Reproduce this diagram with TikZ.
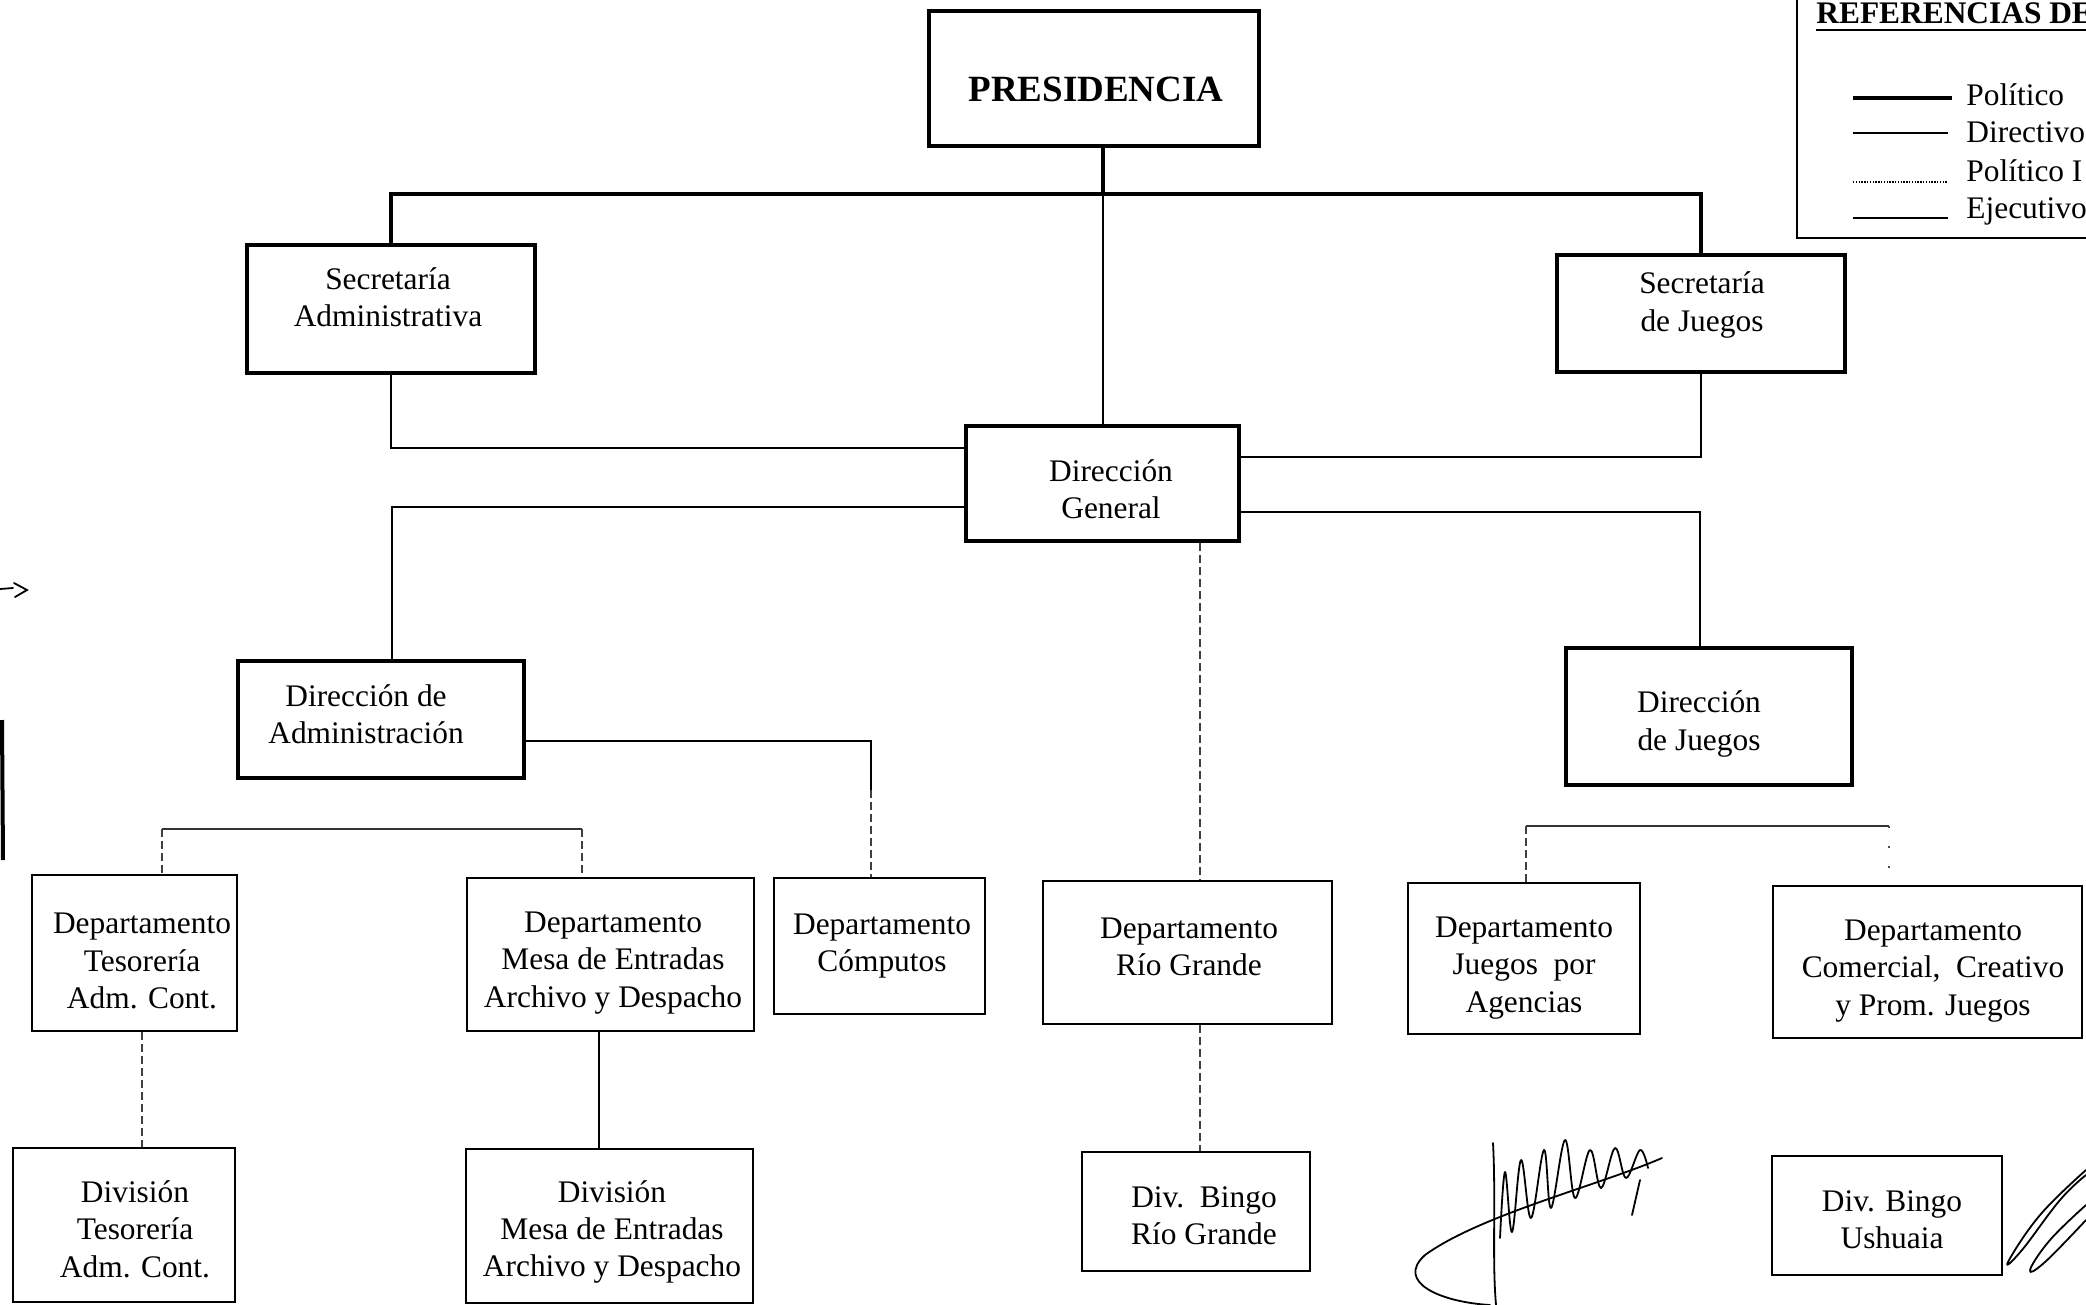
\documentclass[tikz,border=0pt]{standalone}
\usepackage{fontspec}
\setmainfont{Liberation Serif}
\usetikzlibrary{fit}
\begin{document}
\begin{tikzpicture}[x=0.5pt,y=-0.5pt,
  txt/.style={align=center, font=\fontsize{15.7}{18.7}\selectfont, inner sep=0pt},
  thickbox/.style={draw, line width=2.4pt, inner sep=0pt},
  medbox/.style={draw, line width=1.6pt, inner sep=0pt},
  thinbox/.style={draw, line width=1.1pt, inner sep=0pt},
  politico/.style={line width=2.4pt},
  directivo/.style={line width=1.2pt},
  ejecutivo/.style={line width=0.7pt},
  faint/.style={line width=0.6pt, black!75, dash pattern=on 4pt off 2pt},
  sparse/.style={line width=0.6pt, black!70, dash pattern=on 1pt off 9pt},
  sig/.style={line width=0.9pt, line cap=round, line join=round}]
\clip (0,0) rectangle (2086,1305);
\fill[white] (0,0) rectangle (2086,1305);

% ---------- boxes ----------
\node[thickbox, fit={(929,11) (1259,146)}] (pres) {};
\node[txt, font=\bfseries\fontsize{18.5}{22}\selectfont] (presT) at (1096,89) {PRESIDENCIA};
\node[thickbox, fit={(247,245) (535,373)}] (sa) {};
\node[txt] (saT) at (388,297) {Secretaría\\Administrativa};
\node[thickbox, fit={(1557,255) (1845,372)}] (sj) {};
\node[txt] (sjT) at (1702,305) {Secretaría\\de Juegos};
\node[medbox, fit={(966,426) (1239,541)}] (dg) {};
\node[txt] (dgT) at (1111,489) {Dirección\\General};
\node[medbox, fit={(238,661) (524,778)}] (da) {};
\node[txt] (daT) at (366,714) {Dirección de\\Administración};
\node[medbox, fit={(1566,648) (1852,785)}] (dj) {};
\node[txt] (djT) at (1699,724) {Dirección\\de Juegos};

\node[thinbox, fit={(32,875) (237,1031)}] (dt) {};
\node[txt] (dtT) at (142,961) {Departamento\\Tesorería\\Adm. Cont.};
\node[thinbox, fit={(467,878) (754,1031)}] (dm) {};
\node[txt] (dmT) at (613,963) {Departamento\\Mesa de Entradas\\Archivo y Despacho};
\node[thinbox, fit={(774,878) (985,1014)}] (dc) {};
\node[txt] (dcT) at (882,946) {Departamento\\Cómputos};
\node[thinbox, fit={(1043,881) (1332,1024)}] (drg) {};
\node[txt] (drgT) at (1189,947) {Departamento\\Río Grande};
\node[thinbox, fit={(1408,883) (1640,1034)}] (dja) {};
\node[txt] (djaT) at (1524,968) {Departamento\\Juegos\ \ por\\Agencias};
\node[thinbox, fit={(1773,886) (2082,1038)}] (dcc) {};
\node[txt] (dccT) at (1933,971) {Departamento\\Comercial,\ \ Creativo\\y Prom. Juegos};

\node[thinbox, fit={(13,1148) (235,1302)}] (vt) {};
\node[txt] (vtT) at (135,1229) {División\\Tesorería\\Adm. Cont.};
\node[thinbox, fit={(466,1149) (753,1303)}] (vm) {};
\node[txt] (vmT) at (612,1232) {División\\Mesa de Entradas\\Archivo y Despacho};
\node[thinbox, fit={(1082,1152) (1310,1271)}] (vbr) {};
\node[txt] (vbrT) at (1204,1216) {Div.\ \ Bingo\\Río Grande};
\node[thinbox, fit={(1772,1156) (2002,1275)}] (vbu) {};
\node[txt] (vbuT) at (1892,1220) {Div. Bingo\\Ushuaia};

% ---------- helper coordinates ----------
\coordinate (busY) at (0,194);
\coordinate (pv) at (1103,0);
\coordinate (y448) at (0,448);
\coordinate (y457) at (0,457);
\coordinate (y507) at (0,507);
\coordinate (y512) at (0,512);
\coordinate (x392) at (392,0);
\coordinate (x1700) at (1700,0);
\coordinate (x1200) at (1200,0);
\coordinate (y741) at (0,741);
\coordinate (c871) at (871,790);
\coordinate (y829) at (0,829);
\coordinate (x162) at (162,0);
\coordinate (x582) at (582,0);
\coordinate (x142) at (142,0);
\coordinate (x599) at (599,0);
\coordinate (y826) at (0,826);
\coordinate (x1526) at (1526,0);
\coordinate (x1889) at (1889,0);

% ---------- connectors ----------
\draw[politico] (sa.north) -- (sa.north |- busY) -- (sj.north |- busY) -- (sj.north);
\draw[politico] (pv |- pres.south) -- (pv |- busY);
\draw[directivo] (pv |- busY) -- (pv |- dg.north);
\draw[directivo] (sa.south) |- (dg.west |- y448);
\draw[directivo] (sj.south) |- (dg.east |- y457);
\draw[directivo] (dg.west |- y507) -| (x392 |- da.north);
\draw[directivo] (dg.east |- y512) -| (x1700 |- dj.north);
\draw[faint] (x1200 |- dg.south) -- (x1200 |- drg.north);
\draw[faint] (x1200 |- drg.south) -- (x1200 |- vbr.north);
\draw[ejecutivo] (da.east |- y741) -| (c871);
\draw[faint] (c871) -- (c871 |- dc.north);
\draw[ejecutivo, black!80] (x162 |- y829) -- (x582 |- y829);
\draw[faint] (x162 |- y829) -- (x162 |- dt.north);
\draw[faint] (x582 |- y829) -- (x582 |- dm.north);
\draw[faint] (x142 |- dt.south) -- (x142 |- vt.north);
\draw[ejecutivo] (x599 |- dm.south) -- (x599 |- vm.north);
\draw[ejecutivo, black!80] (x1526 |- y826) -- (x1889 |- y826);
\draw[faint] (x1526 |- y826) -- (x1526 |- dja.north);
\draw[sparse] (x1889 |- y826) -- (x1889 |- dcc.north);

% ---------- legend ----------
\node[draw, line width=1.3pt, inner sep=0pt, fit={(1797,-20) (2120,238)}] (leg) {};
\node[inner sep=0pt, anchor=base west, font=\bfseries\fontsize{15.7}{18}\selectfont] (legT) at (1816,24) {REFERENCIAS DE};
\draw[line width=1.4pt] ([yshift=-3pt]legT.base west) -- ([yshift=-3pt]legT.base east);
\draw[politico] (1853,98) -- (1952,98);
\node[txt, anchor=base west] (l1) at (1966,106) {Político};
\draw[line width=1.4pt] (1853,133) -- (1948,133);
\node[txt, anchor=base west] (l2) at (1966,143) {Directivo};
\draw[line width=0.8pt, dash pattern=on 0.7pt off 0.7pt] (1853,182) -- (1948,182);
\node[txt, anchor=base west] (l3) at (1966,182) {Político I};
\draw[line width=0.9pt] (1853,218) -- (1948,218);
\node[txt, anchor=base west] (l4) at (1966,219) {Ejecutivo};

% ---------- scan marks ----------
\draw[line width=0.9pt, line cap=round] (0,589) -- (13,588);
\draw[line width=0.9pt, line cap=round] (14,583) -- (27,590) -- (15,597);
\draw[line width=2pt] (2,720) -- (3,860);

% ---------- signatures ----------
\draw[sig] (1493,1143) .. controls (1496,1200) and (1492,1260) .. (1496,1305);
\draw[sig] (1490,1305) .. controls (1440,1302) and (1395,1282) .. (1425,1255)
  .. controls (1480,1215) and (1600,1185) .. (1662,1158);
\draw[sig] plot[smooth, tension=0.6] coordinates {(1500,1238) (1505,1172) (1512,1232) (1521,1160) (1531,1218) (1544,1150) (1551,1208) (1565,1140) (1575,1198) (1590,1150) (1601,1188) (1615,1148) (1626,1178) (1640,1150) (1648,1168)};
\draw[sig] (1640,1180) -- (1632,1215);
\draw[sig] plot[smooth, tension=0.7] coordinates {(2086,1170) (2040,1215) (2008,1262) (2022,1250) (2060,1200) (2086,1175)};
\draw[sig] plot[smooth, tension=0.7] coordinates {(2086,1205) (2050,1240) (2030,1270) (2045,1262) (2086,1220)};
\end{tikzpicture}
\end{document}
